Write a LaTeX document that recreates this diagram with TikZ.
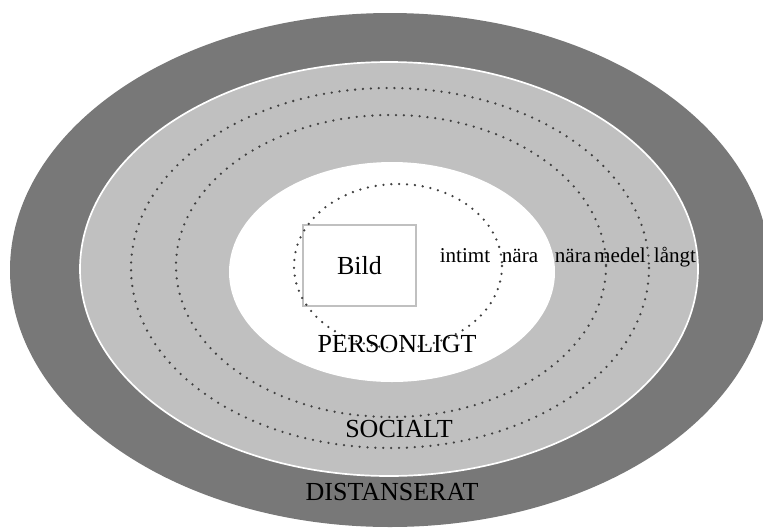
\documentclass[tikz,border=0pt]{standalone}
\usepackage{fontspec}
\setmainfont{Liberation Serif}
\usepackage{tikz}

\definecolor{zonedark}{HTML}{787878}
\definecolor{zonelight}{HTML}{C0C0C0}
\definecolor{dotgray}{HTML}{404040}

\tikzset{
    dotring/.style={draw=dotgray, line width=1.8pt, line cap=round, dash pattern=on 0pt off 5.6pt},
    zonelabel/.style={anchor=base, inner sep=0pt, font=\fontsize{18.5}{20}\selectfont},
    distlabel/.style={anchor=base, inner sep=0pt, font=\fontsize{15}{17}\selectfont}
}

\begin{document}
\begin{tikzpicture}[x=0.025cm, y=-0.025cm]
        \useasboundingbox (0,0) rectangle (763,528);
        % Zones (outer to inner)
        \fill [zonedark] (390,270) ellipse [x radius=380, y radius=257];
        \draw [fill=zonelight, draw=white, line width=1.2pt] (389,269) ellipse [x radius=309, y radius=207];
        \fill [white] (392,272) ellipse [x radius=163, y radius=110];
        % Picture box
        \node (bild) [draw=zonelight, line width=1.5pt, fill=white, minimum width=113*0.025cm, minimum height=81*0.025cm,
            font=\fontsize{18.5}{20}\selectfont] at (359.5,265.5) {Bild};
        % Dotted distance rings (on top of the box)
        \draw [dotring] (390,268) ellipse [x radius=259, y radius=180];
        \draw [dotring] (391,266) ellipse [x radius=215, y radius=151];
        \draw [dotring] (398,266) ellipse [x radius=104, y radius=82];
        % Distance labels
        \node (intimt) [distlabel] at (465,262) {intimt};
        \node (nara1) [distlabel] at (520,262) {nära};
        \node (nara2) [distlabel] at (573,262) {nära};
        \node (medel) [distlabel] at (620,262) {medel};
        \node (langt) [distlabel] at (675,262) {långt};
        % Zone labels
        \node (personligt) [zonelabel] at (397,352) {PERSONLIGT};
        \node (socialt) [zonelabel] at (399,437) {SOCIALT};
        \node (distanserat) [zonelabel] at (392,500) {DISTANSERAT};
    \end{tikzpicture}
\end{document}
